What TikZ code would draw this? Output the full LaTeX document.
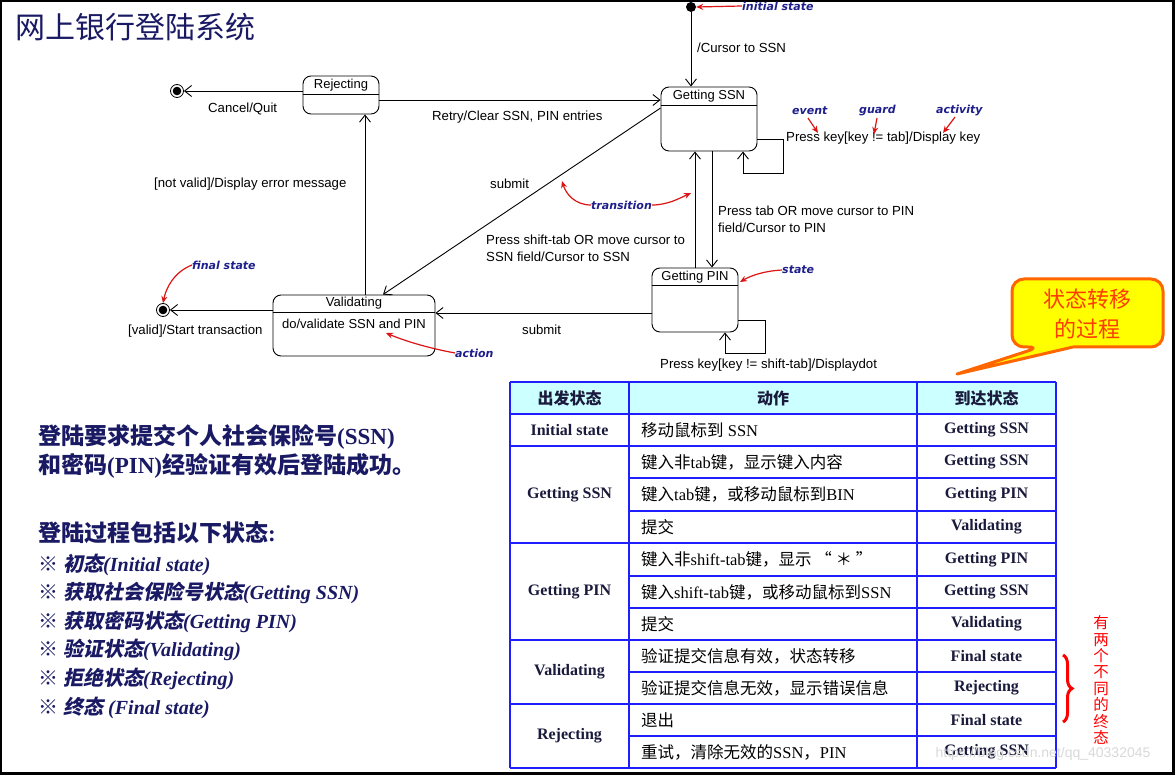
\documentclass[tikz,border=0pt]{standalone}
\usepackage{fontspec}
\setmainfont{Liberation Serif}
\newfontfamily\arialf{Liberation Sans}
\newfontfamily\dejavuf{DejaVu Sans}
\newfontfamily\cjk{Noto Sans CJK SC}
\newfontfamily\cjkit{Noto Sans CJK SC}[FakeSlant=0.2]
\usetikzlibrary{arrows.meta,calc,decorations.pathreplacing}
\newcommand{\zh}[1]{{\cjk #1}}
\newcommand{\zhi}[1]{{\cjkit #1}}
\definecolor{navy}{RGB}{25,25,100}
\definecolor{annot}{RGB}{30,30,140}
\definecolor{redarr}{RGB}{220,20,20}
\definecolor{tblue}{RGB}{30,30,255}
\definecolor{hdr}{RGB}{204,255,255}
\definecolor{cfill}{RGB}{255,255,0}
\definecolor{cdraw}{RGB}{255,102,0}
\definecolor{ctext}{RGB}{255,60,0}
\definecolor{tcell}{RGB}{26,26,60}
\tikzset{
  statebox/.style={draw, rounded corners=8pt, line width=0.9pt, inner sep=0pt},
  tr/.style={line width=0.9pt, -{Straight Barb[length=7pt,width=11pt]}},
  lbl/.style={font=\arialf\fontsize{13.2}{17}\selectfont, inner sep=0pt, anchor=west, align=left},
  stitle/.style={font=\arialf\fontsize{13}{15}\selectfont, inner sep=0pt},
  ann/.style={font=\dejavuf\bfseries\itshape\fontsize{11}{13}\selectfont, text=annot, inner sep=0pt, anchor=west},
  redarrow/.style={draw=redarr, line width=1.2pt, -{Stealth[length=7pt,width=6pt]}},
  finalst/.style={circle, draw, line width=0.8pt, minimum size=13pt, inner sep=0pt,
     path picture={\fill (path picture bounding box.center) circle (4.3pt);}},
  tline/.style={draw=tblue, line width=2pt},
  thead/.style={font=\cjk\bfseries\fontsize{16}{18}\selectfont, text=tcell, inner sep=0pt},
  tbold/.style={font=\bfseries\fontsize{16}{18}\selectfont, text=tcell, inner sep=0pt},
  tact/.style={font=\fontsize{16.5}{18}\selectfont, text=black, inner sep=0pt, anchor=west},
  lefttxt/.style={font=\bfseries\fontsize{23}{25}\selectfont, text=navy, inner sep=0pt, anchor=west},
  leftitem/.style={font=\bfseries\itshape\fontsize{20}{22}\selectfont, text=navy, inner sep=0pt, anchor=west},
}
\begin{document}
\begin{tikzpicture}[x=1pt,y=-1pt]
\useasboundingbox (0,0) rectangle (1175,775);
\fill[black] (0,0) rectangle (1175,775);
\fill[white] (2,2) rectangle (1172,772);

% title
\node[font=\cjk\fontsize{30}{32}\selectfont, text=navy, inner sep=0pt, anchor=west] (title) at (15,27) {网上银行登陆系统};

% ---------- state diagram ----------
\node[circle, fill=black, inner sep=0pt, minimum size=10pt] (init) at (691,7) {};
\node[statebox, minimum width=96pt, minimum height=64pt] (ssn) at (709,119) {};
\node[stitle] (ssnt) at (709,96) {Getting SSN};
\draw[line width=0.9pt] ($(ssn.north west)+(0,19)$) -- ($(ssn.north east)+(0,19)$);

\node[statebox, minimum width=76pt, minimum height=38pt] (rej) at (341,95) {};
\node[stitle] (rejt) at (341,85) {Rejecting};
\draw[line width=0.9pt] ($(rej.north west)+(0,19)$) -- ($(rej.north east)+(0,19)$);

\node[statebox, minimum width=162pt, minimum height=61pt] (val) at (354,325.5) {};
\node[stitle] (valt) at (354,303) {Validating};
\node[stitle] (valdo) at (354,323.5) {do/validate SSN and PIN};
\draw[line width=0.9pt] ($(val.north west)+(0,18)$) -- ($(val.north east)+(0,18)$);

\node[statebox, minimum width=86pt, minimum height=64pt] (pin) at (695,300) {};
\node[stitle] (pint) at (695,277) {Getting PIN};
\draw[line width=0.9pt] ($(pin.north west)+(0,18)$) -- ($(pin.north east)+(0,18)$);

\node[finalst] (fin1) at (177,91) {};
\node[finalst] (fin2) at (163,310) {};

% transitions
\draw[tr] (init) -- (init |- ssn.north);
\draw[tr] (rej.west |- fin1) -- (fin1);
\coordinate (rr) at ($(rej.east)+(0,5)$);
\draw[tr] (rr) -- (rr -| ssn.west);
\coordinate (vr) at ($(val.north)+(11,0)$);
\draw[tr] (vr) -- (vr |- rej.south);
\draw[tr] ($(ssn.west)+(0,-11)$) -- ($(val.north)+(29,0)$);
\coordinate (pv) at ($(pin.west)+(0,13)$);
\draw[tr] (pv) -- (pv -| val.east);
\draw[tr] (val.west |- fin2) -- (fin2);
\draw[tr] (pin.north) -- (pin.north |- ssn.south);
\coordinate (sp) at ($(ssn.south)+(3,0)$);
\draw[tr] (sp) -- (sp |- pin.north);
\draw[tr] ($(ssn.east)+(0,20)$) -| ($(ssn.south)+(74,22)$) -| ($(ssn.south)+(34,0)$);
\draw[tr] ($(pin.east)+(0,20)$) -| ($(pin.south)+(70,21)$) -| ($(pin.south)+(30,0)$);

% transition labels
\node[lbl] (l1) at (697,48) {/Cursor to SSN};
\node[lbl] (l2) at (432,117) {Retry/Clear SSN, PIN entries};
\node[lbl] (l3) at (208,109) {Cancel/Quit};
\node[lbl] (l4) at (154,184) {[not valid]/Display error message};
\node[lbl] (l5) at (490,184) {submit};
\node[lbl] (l6) at (486,248.5) {Press shift-tab OR move cursor to\\SSN field/Cursor to SSN};
\node[lbl] (l7) at (718,219) {Press tab OR move cursor to PIN\\field/Cursor to PIN};
\node[lbl] (l8) at (786,138) {Press key[key != tab]/Display key};
\node[lbl] (l9) at (128,331) {[valid]/Start transaction};
\node[lbl] (l10) at (522,330) {submit};
\node[lbl] (l11) at (660,365) {Press key[key != shift-tab]/Displaydot};

% annotations
\node[ann] (a1) at (742,6) {initial state};
\draw[redarrow] (a1.west) -- (init.east);
\node[ann] (a2) at (792,111) {event};
\node[ann] (a3) at (859,111) {guard};
\node[ann] (a4) at (936,111) {activity};
\coordinate (e1) at (818,133);
\coordinate (e2) at (874,134);
\coordinate (e3) at (943,133);
\draw[redarrow] (808,118) -- (e1);
\draw[redarrow] (877,118) -- (e2);
\draw[redarrow] (955,117) -- (e3);
\node[ann] (a5) at (591,205) {transition};
\coordinate (t1) at (562,181);
\coordinate (t2) at (691,193);
\draw[redarrow] (a5.west) .. controls (575,205) and (566,194) .. (t1);
\draw[redarrow] (a5.east) .. controls (668,205) and (680,198) .. (t2);
\node[ann] (a6) at (782,270) {state};
\coordinate (s1) at (740,282);
\draw[redarrow] (a6.west) .. controls (765,271) and (752,275) .. (s1);
\node[ann] (a7) at (192,265) {final state};
\draw[redarrow] (a7.west) .. controls (174,272) and (166,288) .. (fin2.north);
\node[ann] (a8) at (455,353) {action};
\coordinate (ac) at (386,333);
\draw[redarrow] (a8.west) .. controls (428,348) and (405,341) .. (ac);

% ---------- callout ----------
\draw[line width=3pt, draw=cdraw, fill=cfill, line join=round]
  (957,374) -- (1073,347) [rounded corners=12pt] -- (1163,347) -- (1163,279) -- (1012,279) -- (1012,347) -- (1040,347) [sharp corners] -- cycle;
\node[font=\cjk\fontsize{22}{30}\selectfont, text=ctext, align=center, inner sep=0pt] (cl) at (1087,314) {状态转移\\的过程};

% ---------- table ----------
\fill[hdr] (510,382) rectangle (1056,414);
\foreach \yy in {382,414,446,543,640,704,768} \draw[tline] (510,\yy) -- (1056,\yy);
\foreach \yy in {478,511,576,608,672,736} \draw[tline] (629,\yy) -- (1056,\yy);
\foreach \xx in {510,629,917,1056} \draw[tline] (\xx,382) -- (\xx,768);

\node[thead] (h1) at (569.5,398) {出发状态};
\node[thead] (h2) at (773,398) {动作};
\node[thead] (h3) at (986.5,398) {到达状态};

\node[tbold] (c1a) at (569.5,430) {Initial state};
\node[tbold] (c1b) at (569.5,494.5) {Getting SSN};
\node[tbold] (c1c) at (569.5,591.5) {Getting PIN};
\node[tbold] (c1d) at (569.5,672) {Validating};
\node[tbold] (c1e) at (569.5,736) {Rejecting};

\node[tact] (r1) at (641,430) {\zh{移动鼠标到} SSN};
\node[tact] (r2) at (641,462) {\zh{键入非}tab\zh{键，显示键入内容}};
\node[tact] (r3) at (641,494.5) {\zh{键入}tab\zh{键，或移动鼠标到}BIN};
\node[tact] (r4) at (641,527) {\zh{提交}};
\node[tact] (r5) at (641,559.5) {\zh{键入非}shift-tab\zh{键，显示 “ ＊ ”}};
\node[tact] (r6) at (641,592) {\zh{键入}shift-tab\zh{键，或移动鼠标到}SSN};
\node[tact] (r7) at (641,624) {\zh{提交}};
\node[tact] (r8) at (641,656) {\zh{验证提交信息有效，状态转移}};
\node[tact] (r9) at (641,688) {\zh{验证提交信息无效，显示错误信息}};
\node[tact] (r10) at (641,720) {\zh{退出}};
\node[tact] (r11) at (641,752) {\zh{重试，清除无效的}SSN\zh{，}PIN};

\node[tbold] (d1) at (986.5,430) {Getting SSN};
\node[tbold] (d2) at (986.5,462) {Getting SSN};
\node[tbold] (d3) at (986.5,494.5) {Getting PIN};
\node[tbold] (d4) at (986.5,527) {Validating};
\node[tbold] (d5) at (986.5,559.5) {Getting PIN};
\node[tbold] (d6) at (986.5,592) {Getting SSN};
\node[tbold] (d7) at (986.5,624) {Validating};
\node[tbold] (d8) at (986.5,656) {Final state};
\node[tbold] (d9) at (986.5,688) {Rejecting};
\node[tbold] (d10) at (986.5,720) {Final state};
\node[tbold] (d11) at (986.5,752) {Getting SSN};

% brace and vertical note
\coordinate (bt) at (1063,655);
\coordinate (bb) at (1063,722);
\draw[red, line width=3pt, decorate, decoration={brace, amplitude=9pt}] (bt) -- (bb);
\node[font=\cjk\fontsize{15.5}{16.4}\selectfont, text=red, align=center, inner sep=0pt] (note) at (1101,680) {有\\两\\个\\不\\同\\的\\终\\态};

% ---------- left text ----------
\node[lefttxt] (p1) at (38,437) {\zh{登陆要求提交个人社会保险号}(SSN)};
\node[lefttxt] (p2) at (38,466) {\zh{和密码}(PIN)\zh{经验证有效后登陆成功。}};
\node[lefttxt] (p3) at (38,533) {\zh{登陆过程包括以下状态}:};
\node[leftitem] (i1) at (38,565) {{\cjk\mdseries ※} \zhi{初态}(Initial state)};
\node[leftitem] (i2) at (38,593) {{\cjk\mdseries ※} \zhi{获取社会保险号状态}(Getting SSN)};
\node[leftitem] (i3) at (38,622) {{\cjk\mdseries ※} \zhi{获取密码状态}(Getting PIN)};
\node[leftitem] (i4) at (38,650) {{\cjk\mdseries ※} \zhi{验证状态}(Validating)};
\node[leftitem] (i5) at (38,679) {{\cjk\mdseries ※} \zhi{拒绝状态}(Rejecting)};
\node[leftitem] (i6) at (38,708) {{\cjk\mdseries ※} \zhi{终态} (Final state)};

% watermark
\node[font=\arialf\fontsize{14}{16}\selectfont, text=black!15, inner sep=0pt] (wm) at (1043,754) {https://blog.csdn.net/qq\_40332045};
\end{tikzpicture}
\end{document}
